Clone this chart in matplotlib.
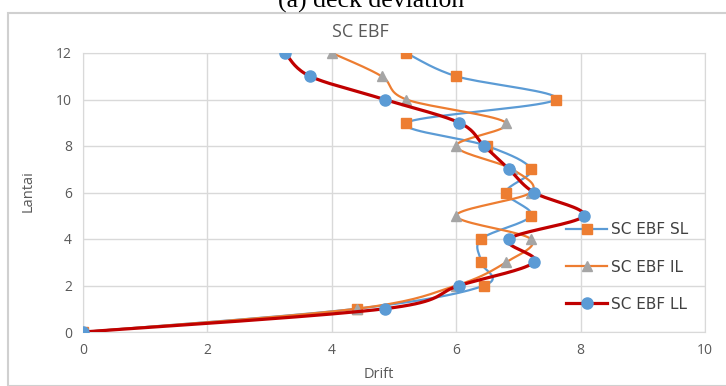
import numpy as np
import matplotlib
matplotlib.use("Agg")
import matplotlib.pyplot as plt
from matplotlib.lines import Line2D
from matplotlib.patches import Rectangle

floors = [0, 1, 2, 3, 4, 5, 6, 7, 8, 9, 10, 11, 12]
drift_sl = [0, 4.4, 6.45, 6.4, 6.4, 7.2, 6.8, 7.2, 6.5, 5.2, 7.6, 6.0, 5.2]
drift_il = [0, 4.4, 6.0, 6.8, 7.2, 6.0, 7.2, 6.9, 6.0, 6.8, 5.2, 4.8, 4.0]
drift_ll = [0, 4.85, 6.05, 7.25, 6.85, 8.05, 7.25, 6.85, 6.45, 6.05, 4.85, 3.65, 3.25]
labels = ["SC EBF SL", "SC EBF IL", "SC EBF LL"]


def smooth(x, y, n=20):
    # Catmull-Rom style smoothing (like spreadsheet smoothed lines)
    p = np.column_stack([x, y]).astype(float)
    out = []
    for i in range(len(p) - 1):
        p0 = p[i - 1] if i > 0 else p[i]
        p1 = p[i]
        p2 = p[i + 1]
        p3 = p[i + 2] if i + 2 < len(p) else p[i + 1]
        c1 = p1 + (p2 - p0) / 6.0
        c2 = p2 - (p3 - p1) / 6.0
        t = np.linspace(0, 1, n)[:, None]
        seg = ((1 - t) ** 3) * p1 + 3 * ((1 - t) ** 2) * t * c1 + 3 * (1 - t) * t ** 2 * c2 + t ** 3 * p2
        out.append(seg if i == 0 else seg[1:])
    s = np.vstack(out)
    return s[:, 0], s[:, 1]


fig = plt.figure(figsize=(7.26, 3.86), dpi=100)
W, H = 726, 386
ax = fig.add_axes([83 / W, 1 - 332 / H, 622 / W, 279 / H])

styles = [
    dict(line="#5B9BD5", lw=1.6, marker="s", mc="#ED7D31", ms=7),
    dict(line="#ED7D31", lw=1.6, marker="^", mc="#A5A5A5", ms=7.5),
    dict(line="#C00000", lw=2.3, marker="o", mc="#5B9BD5", ms=8),
]
series = [drift_sl, drift_il, drift_ll]
handles = []
for k, (xs, st) in enumerate(zip(series, styles)):
    sx, sy = smooth(xs, floors)
    ax.plot(sx, sy, color=st["line"], lw=st["lw"], zorder=3 + 2 * k, solid_capstyle="round")
    ax.plot(xs, floors, linestyle="none", marker=st["marker"], ms=st["ms"],
            mfc=st["mc"], mec=st["mc"], zorder=4 + 2 * k)
    handles.append(Line2D([], [], color=st["line"], lw=st["lw"], marker=st["marker"],
                          ms=st["ms"], mfc=st["mc"], mec=st["mc"]))

ax.set_xlim(0, 10)
ax.set_ylim(0, 12)
ax.set_xticks([0, 2, 4, 6, 8, 10])
ax.set_yticks([0, 2, 4, 6, 8, 10, 12])
ax.grid(True, color="#D9D9D9", lw=1)
ax.set_axisbelow(True)
for s in ax.spines.values():
    s.set_color("#D9D9D9")
ax.tick_params(length=0, colors="#595959", labelsize=10, pad=8)
for lab in ax.get_xticklabels() + ax.get_yticklabels():
    lab.set_fontfamily("Open Sans")

fig.text(28 / W, 1 - 191 / H, "Lantai", rotation=90, ha="center", va="center",
         fontsize=10.5, color="#595959", family="Open Sans")
fig.text(379 / W, 1 - 374 / H, "Drift", ha="center", va="center",
         fontsize=10.5, color="#595959", family="Open Sans")
fig.text(360 / W, 1 - 32 / H, "SC EBF", ha="center", va="center",
         fontsize=13, color="#595959", family="Open Sans")
fig.text(371 / W, 1 - 8 / H, "(a) deck deviation", ha="center", va="baseline",
         fontsize=18.5, color="black", family="Liberation Serif")

fig.patches.append(Rectangle((8 / W, 0), 1.2, 1 - 13 / H, transform=fig.transFigure,
                             fill=False, edgecolor="#D0D0D0", lw=1.5))

leg = ax.legend(handles, labels, loc="center left", bbox_to_anchor=(566 / W, 1 - 267 / H),
                bbox_transform=fig.transFigure, frameon=False, fontsize=11,
                handlelength=2.7, handletextpad=0.26, labelspacing=1.45,
                borderpad=0, borderaxespad=0)
for t in leg.get_texts():
    t.set_color("#404040")
    t.set_fontfamily("Liberation Sans Narrow")

fig.savefig("out.png", dpi=100)
